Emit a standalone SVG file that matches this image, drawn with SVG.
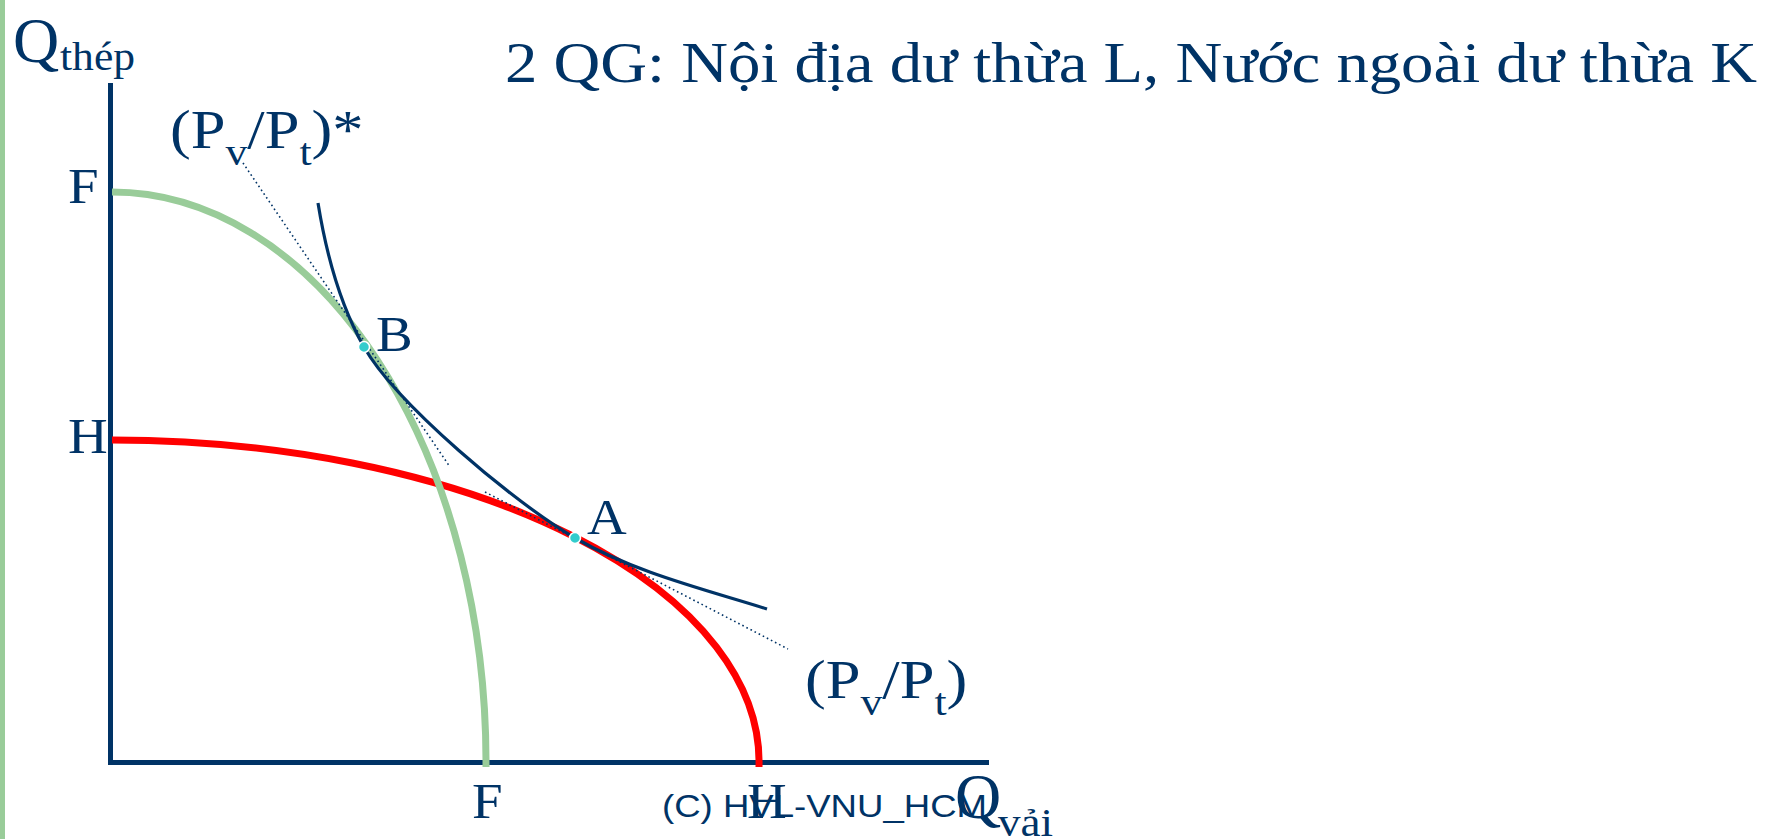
<svg xmlns="http://www.w3.org/2000/svg" width="1780" height="839" viewBox="0 0 1780 839">
<style>
.t{font-family:"Liberation Serif","Times New Roman",serif;fill:#003366}
.s{font-family:"Liberation Sans",Arial,sans-serif;fill:#003366}
.ax{stroke:#003366;stroke-width:5;fill:none}
.dot{fill:#33CCCC;stroke:#FFFFFF;stroke-width:1.5}
.dl{stroke:#003366;stroke-width:1.6;stroke-dasharray:1.6,3;fill:none}
</style>
<rect x="0" y="0" width="5" height="839" fill="#99CC99"/>
<g id="axes">
<line class="ax" x1="110.5" y1="83" x2="110.5" y2="765"/>
<line class="ax" x1="108" y1="762.5" x2="989" y2="762.5"/>
</g>
<g id="connectors">
<path id="curve-HH" d="M112,440 A647,322 0 0 1 759,767" fill="none" stroke="#FF0000" stroke-width="7"/>
<path id="curve-FF" d="M112,192 A374,570 0 0 1 486,767" fill="none" stroke="#99CC99" stroke-width="7"/>
<path id="indiff" d="M318,203 C326,252.4 339.2,303.6 364,347 C396.2,403.4 514.4,502.9 575,538 C633.8,572.1 702.1,588.7 767,609" fill="none" stroke="#003366" stroke-width="3.2"/>
<line class="dl" x1="243" y1="163" x2="450" y2="467"/>
<line class="dl" x1="485" y1="492" x2="788" y2="649"/>
</g>
<g id="node-B"><circle class="dot" cx="364" cy="347" r="5.5"/><text class="t" font-size="50" transform="translate(376,351) scale(1.1,1)">B</text></g>
<g id="node-A"><circle class="dot" cx="575" cy="538" r="5.5"/><text class="t" font-size="50" transform="translate(587,534) scale(1.1,1)">A</text></g>
<g id="title"><text class="t" x="505" y="82" font-size="58" textLength="1252" lengthAdjust="spacingAndGlyphs">2 QG: Nội địa dư thừa L, Nước ngoài dư thừa K</text></g>
<g id="y-label"><text class="t" font-size="64" transform="translate(13,62)">Q</text><text class="t" font-size="40" x="60" y="70" textLength="75" lengthAdjust="spacingAndGlyphs">thép</text></g>
<g id="x-label"><text class="t" font-size="64" transform="translate(955,818)">Q</text><text class="t" font-size="40" x="998" y="836" textLength="55" lengthAdjust="spacingAndGlyphs">vải</text></g>
<g id="labels">
<text class="t" font-size="50" transform="translate(68,203) scale(1.1,1)">F</text>
<text class="t" font-size="50" transform="translate(68,453) scale(1.1,1)">H</text>
<text class="t" font-size="50" transform="translate(472,818) scale(1.1,1)">F</text>
<text class="t" font-size="50" transform="translate(747,818) scale(1.1,1)">H</text>
</g>
<g id="price-star"><text class="t" font-size="55" transform="translate(170,148) scale(1.135,1)">(P<tspan font-size="38.5" dy="17">v</tspan><tspan dy="-17">/P</tspan><tspan font-size="38.5" dy="17">t</tspan><tspan dy="-17">)*</tspan></text></g>
<g id="price"><text class="t" font-size="55" transform="translate(805,698) scale(1.135,1)">(P<tspan font-size="38.5" dy="17">v</tspan><tspan dy="-17">/P</tspan><tspan font-size="38.5" dy="17">t</tspan><tspan dy="-17">)</tspan></text></g>
<g id="footer"><text class="s" x="662" y="817" font-size="32" textLength="325" lengthAdjust="spacingAndGlyphs">(C) HVL-VNU_HCM</text></g>
</svg>
